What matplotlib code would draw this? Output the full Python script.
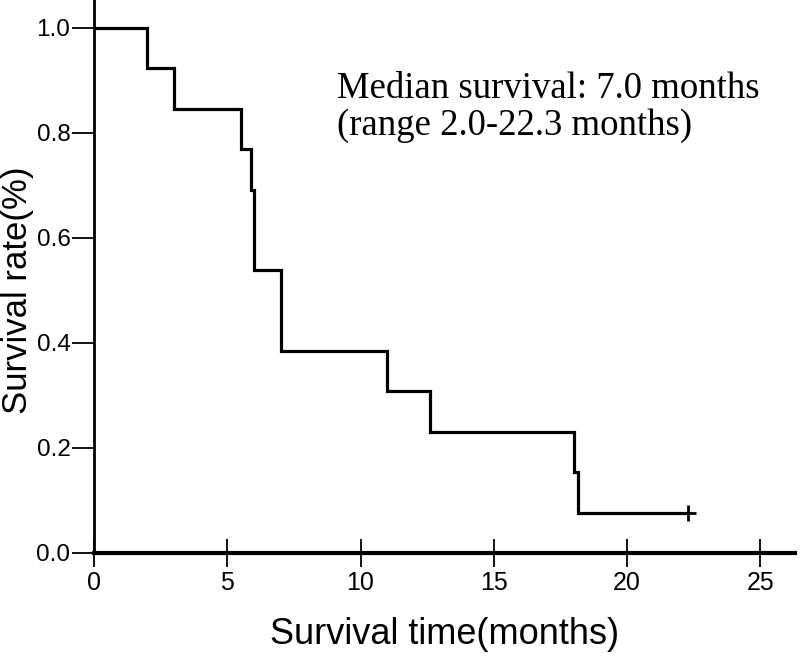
import matplotlib
matplotlib.use("Agg")
import matplotlib.pyplot as plt
import numpy as np

# Kaplan-Meier data (n = 13)
event_times = [0.0, 2.0, 3.0, 5.5, 5.9, 6.0, 7.0, 11.0, 12.6, 18.0, 18.15, 22.3]
survival = [1.0, 0.923, 0.846, 0.769, 0.692, 0.538, 0.385, 0.308, 0.231, 0.154, 0.077, 0.077]
censor_times = [22.3]
censor_surv = [0.077]

x_ticks = [0, 5, 10, 15, 20, 25]
y_ticks = [0.0, 0.2, 0.4, 0.6, 0.8, 1.0]
y_tick_labels = ["0.0", "0.2", "0.4", "0.6", "0.8", "1.0"]

annotation = "Median survival: 7.0 months\n(range 2.0-22.3 months)"

sans = ["Liberation Sans", "DejaVu Sans"]
serif = ["Liberation Serif", "DejaVu Serif"]

W, H = 800, 658
fig = plt.figure(figsize=(W / 100, H / 100), dpi=100)
ax = fig.add_axes([0.1175, 0.1596, 0.8763, 0.8404])

ax.step(event_times, survival, where="post", color="black", lw=2.3, solid_joinstyle="miter")
ax.plot(censor_times, censor_surv, marker="+", color="black", ms=12, mew=2, ls="none")

ax.set_xlim(0, 26.3)
ax.set_ylim(0, 1.053)

ax.set_xticks(x_ticks)
ax.set_xticklabels([str(t) for t in x_ticks], family=sans, fontsize=18)
ax.set_yticks(y_ticks)
ax.set_yticklabels(y_tick_labels, family=sans, fontsize=17.5)

ax.tick_params(axis="x", direction="inout", length=20, width=1.3, pad=3)
ax.tick_params(axis="y", direction="out", length=16, width=1.3, pad=1)

for side in ["top", "right"]:
    ax.spines[side].set_visible(False)
ax.spines["bottom"].set_linewidth(3.0)
ax.spines["left"].set_linewidth(2.0)

ax.set_xlabel("Survival time(months)", family=sans, fontsize=26)
ax.xaxis.set_label_coords(0.5, (553 - 617) / 553)
ax.xaxis.label.set_va("top")
ax.set_ylabel("Survival rate(%)", family=sans, fontsize=25)
ax.yaxis.set_label_coords((34 - 94) / 701, (553 - 290) / 553)

ax.text(337, H - 135, annotation, transform=None, family=serif, fontsize=26.5,
        ha="left", va="baseline", linespacing=1.1)

fig.savefig("out.png", dpi=100)
